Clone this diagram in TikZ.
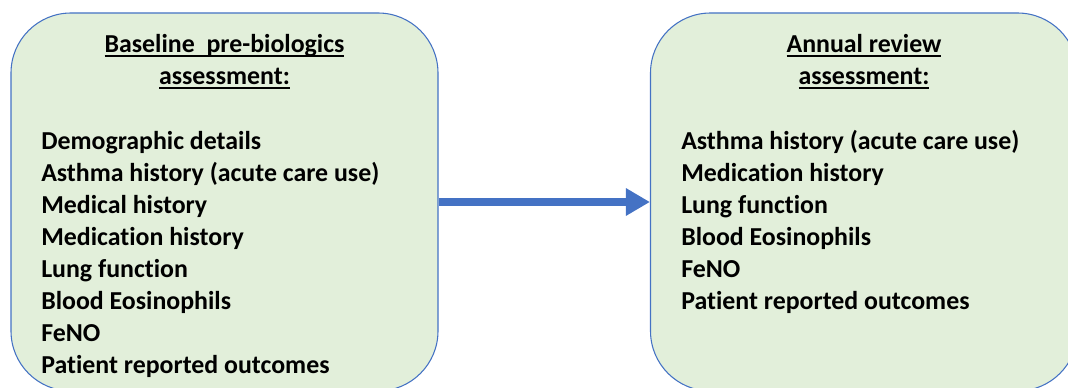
\documentclass[tikz,border=0pt]{standalone}
\usepackage{fontspec}
\setmainfont[Ligatures=NoCommon]{Carlito}
\usetikzlibrary{arrows.meta}
\definecolor{boxfill}{HTML}{E2EFDA}
\definecolor{boxline}{HTML}{4472C4}
\newcommand\myul[1]{\setbox0\hbox{#1}\rlap{\rule[-3.4pt]{\wd0}{1.5pt}}\box0}
\tikzset{
  panel/.style={draw=boxline, fill=boxfill, line width=0.8pt, rounded corners=45pt,
    minimum width=320.25pt, minimum height=283.5pt, inner sep=0pt},
  item/.style={anchor=base west, inner sep=0pt, font=\fontsize{19.4}{24}\selectfont\bfseries},
  head/.style={anchor=base, inner sep=0pt, font=\fontsize{19.4}{24}\selectfont\bfseries},
  flow/.style={draw=boxline, line width=6pt, -{Triangle[length=18pt,width=19.5pt]}}
}
\begin{document}
\begin{tikzpicture}[x=0.75pt,y=-0.75pt]
\useasboundingbox (0,0) rectangle (1068,388);
\clip (0,0) rectangle (1068,388);
\node[panel] (left) at (224.5,202) {};
\node[panel] (right) at (864,202) {};
\node[head] (lh1) at (224.5,52.5) {\myul{Baseline\ \ pre-biologics}};
\node[head] (lh2) at (224.5,84.5) {\myul{assessment:}};
\node[head] (rh1) at (864,52.5) {\myul{Annual review}};
\node[head] (rh2) at (864,84.5) {\myul{assessment:}};
\foreach \t [count=\i from 0] in {Demographic details, Asthma history (acute care use), Medical history, Medication history, Lung function, Blood Eosinophils, FeNO, Patient reported outcomes}
  \node[item] (l\i) at (41,149.5+32*\i) {\t};
\foreach \t [count=\i from 0] in {Asthma history (acute care use), Medication history, Lung function, Blood Eosinophils, FeNO, Patient reported outcomes}
  \node[item] (r\i) at (681,149.5+32*\i) {\t};
\draw[flow] (left.east) -- (right.west);
\end{tikzpicture}
\end{document}
